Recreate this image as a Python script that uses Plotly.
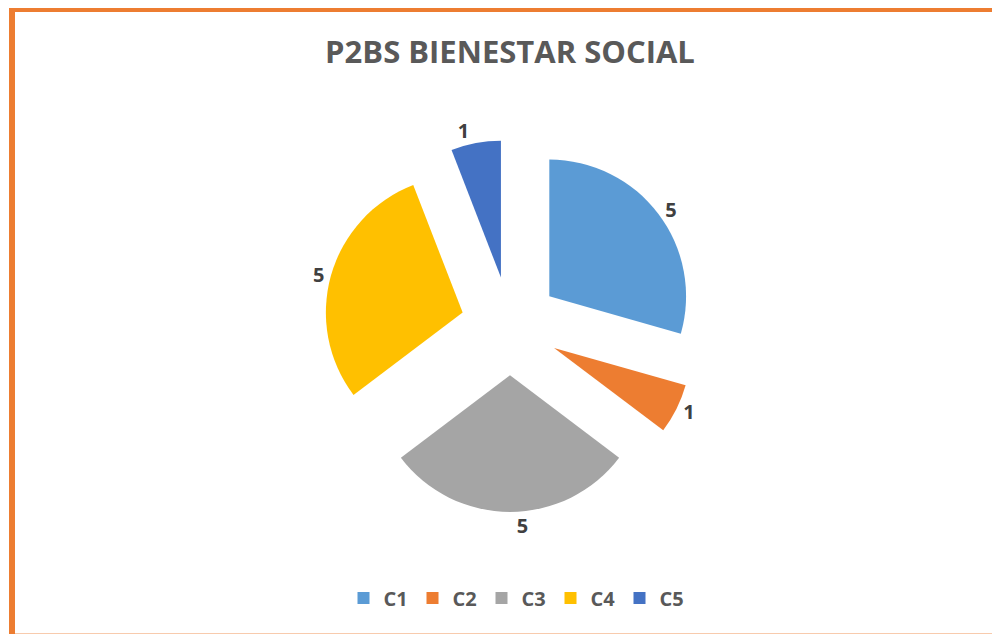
import plotly.graph_objects as go

categories = ['C1', 'C2', 'C3', 'C4', 'C5']
values = [5, 1, 5, 5, 1]
colors = ['#5B9BD5', '#ED7D31', '#A5A5A5', '#FFC000', '#4472C4']

# page body adds an 8px offset, so the figure is 992x626 and fills the window
W, H = 992, 626

fig = go.Figure()
fig.add_trace(go.Pie(
    labels=categories,
    values=values,
    marker=dict(colors=colors, line=dict(width=0)),
    pull=0.36,
    sort=False,
    direction='clockwise',
    rotation=0,
    textinfo='value',
    textposition='outside',
    textfont=dict(family='Open Sans', size=20, color='#404040', weight='bold'),
    domain=dict(x=[316 / W, 688 / W], y=[122 / H, 494 / H]),
))

fig.update_layout(
    width=W,
    height=H,
    margin=dict(l=0, r=0, t=0, b=0, autoexpand=False),
    paper_bgcolor='white',
    title=dict(
        text='P2BS BIENESTAR SOCIAL',
        x=502 / W, xanchor='center',
        y=1 - 44 / H, yanchor='middle',
        font=dict(family='Open Sans', size=31, color='#595959', weight='bold'),
    ),
    legend=dict(
        orientation='h',
        x=508 / W, xanchor='center',
        y=1 - 590 / H, yanchor='middle',
        font=dict(family='Open Sans', size=20, color='#595959', weight='bold'),
        itemwidth=30,
        entrywidth=24,
        entrywidthmode='pixels',
    ),
    shapes=[
        dict(type='line', xref='paper', yref='paper',
             x0=4 / W, x1=1.0, y0=1 - 2 / H, y1=1 - 2 / H,
             line=dict(color='#ED7D31', width=4)),
        dict(type='line', xref='paper', yref='paper',
             x0=4 / W, x1=4 / W, y0=0, y1=1,
             line=dict(color='#ED7D31', width=6)),
        dict(type='line', xref='paper', yref='paper',
             x0=7 / W, x1=1.0, y0=0.5 / H, y1=0.5 / H,
             line=dict(color='#F8CBAD', width=1)),
    ],
)

fig.write_html("out.html")
